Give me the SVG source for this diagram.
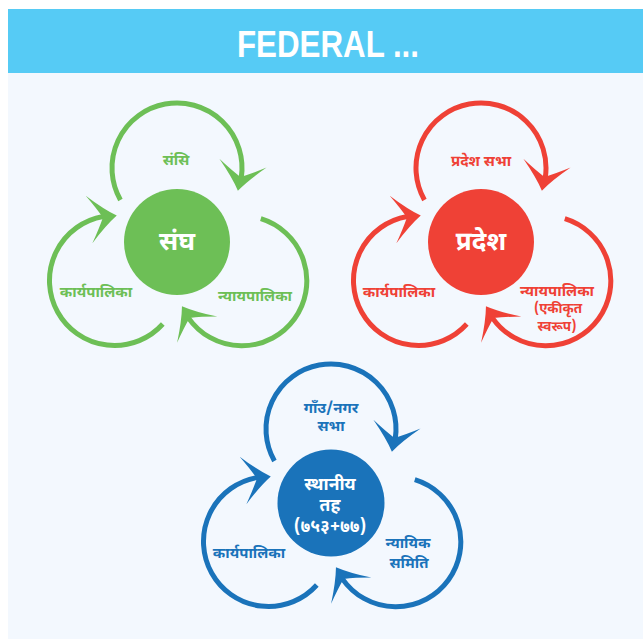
<svg xmlns="http://www.w3.org/2000/svg" xmlns:xlink="http://www.w3.org/1999/xlink" width="643" height="639" viewBox="0 0 643 639">
<style>
.dev{font-family:'Noto Sans Devanagari','Lohit Devanagari','Noto Sans',sans-serif;font-weight:bold;text-anchor:middle}
.lbl{font-size:15px}
.sm{font-size:13.5px}
.hub{font-size:26px;fill:#ffffff}
.hs{font-size:17.5px}
.g{fill:#6dbf56;stroke:#6dbf56}
.r{fill:#ef4136;stroke:#ef4136}
.b{fill:#1a73ba;stroke:#1a73ba}
.arc{fill:none;stroke-width:5}
.ah{stroke:none}
text{stroke:none}
</style>
<defs>
<path id="ah" class="ah" d="M0,0 Q-12,-8 -28,-24 Q-19,-10 -14,0 Q-19,10 -28,24 Q-12,8 0,0 Z"/>
<g id="lobe">
<path class="arc" d="M-41.78,49.79 A65,65 0 1 1 63.58,-13.51"/>
<use xlink:href="#ah" href="#ah" transform="translate(65,0) rotate(80)"/>
</g>
<g id="trio">
<use xlink:href="#lobe" href="#lobe" transform="translate(177,168) rotate(20.5)"/>
<use xlink:href="#lobe" href="#lobe" transform="translate(241.8,280.8) rotate(157)"/>
<use xlink:href="#lobe" href="#lobe" transform="translate(114.5,280.5) rotate(272)"/>
</g>
</defs>
<rect x="0" y="0" width="643" height="639" fill="#ffffff"/>
<rect x="8" y="73" width="635" height="566" fill="#f3f8fe"/>
<g id="header">
<rect x="8" y="9" width="635" height="64" fill="#56cbf5"/>
<text x="328" y="57" font-family="'Liberation Sans Narrow','Liberation Sans',sans-serif" font-weight="bold" font-size="36" fill="#ffffff" text-anchor="middle" textLength="182" lengthAdjust="spacingAndGlyphs">FEDERAL ...</text>
</g>
<g id="connectors">
<g class="g"><use xlink:href="#trio" href="#trio"/></g>
<g class="r"><use xlink:href="#trio" href="#trio" transform="translate(304,0)"/></g>
<g class="b"><use xlink:href="#trio" href="#trio" transform="translate(154,261)"/></g>
<g class="dev lbl" fill="#6dbf56">
<text x="176" y="165">संसि</text>
<text x="96" y="297">कार्यपालिका</text>
<text x="255" y="301">न्यायपालिका</text>
</g>
<g class="dev lbl" fill="#ef4136">
<text x="481" y="166">प्रदेश सभा</text>
<text x="557" y="296">न्यायपालिका</text>
<text class="sm" x="558" y="313">(एकीकृत</text>
<text class="sm" x="557" y="331">स्वरूप)</text>
<text x="399" y="297">कार्यपालिका</text>
</g>
<g class="dev lbl" fill="#1a73ba">
<text x="331" y="413">गाँउ/नगर</text>
<text x="331" y="431">सभा</text>
<text x="249" y="558">कार्यपालिका</text>
<text x="408" y="548">न्यायिक</text>
<text x="409" y="568">समिति</text>
</g>
</g>
<g id="node-sangh">
<circle cx="177" cy="242" r="53" fill="#6dbf56"/>
<text class="dev hub" x="177" y="250">संघ</text>
</g>
<g id="node-pradesh">
<circle cx="481" cy="242" r="53" fill="#ef4136"/>
<text class="dev hub" x="481" y="250">प्रदेश</text>
</g>
<g id="node-sthaniya">
<circle cx="331" cy="503" r="53.5" fill="#1a73ba"/>
<text class="dev hub hs" x="330" y="490">स्थानीय</text>
<text class="dev hub hs" x="330" y="511">तह</text>
<text class="dev hub hs" x="330" y="532">(७५३+७७)</text>
</g>
</svg>
